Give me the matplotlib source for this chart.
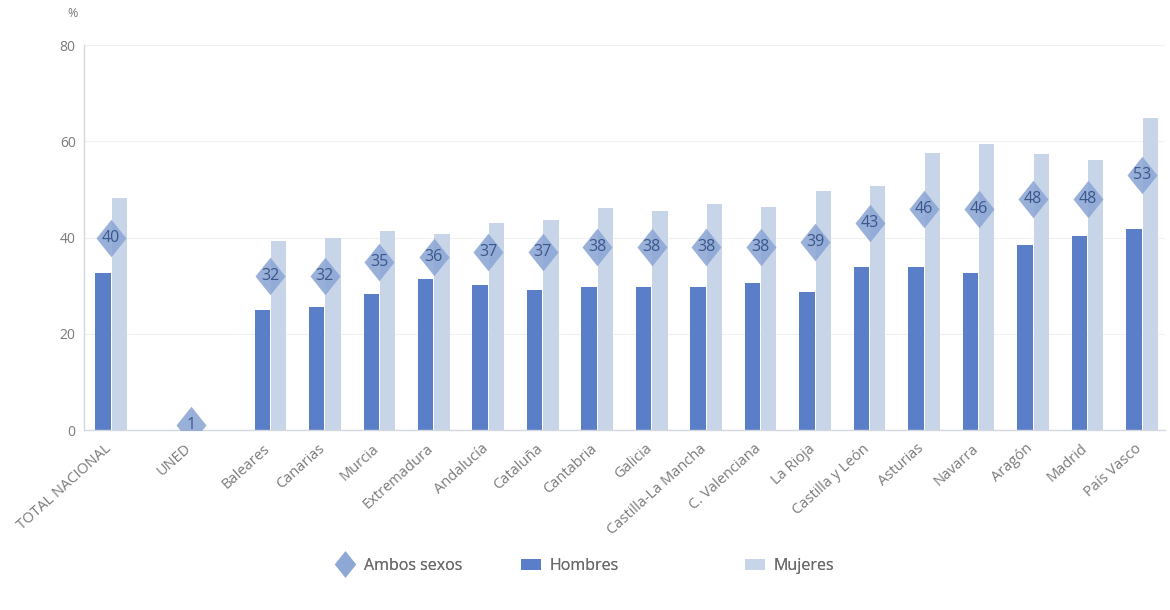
import numpy as np
import matplotlib
matplotlib.use("Agg")
import matplotlib.pyplot as plt
from matplotlib.lines import Line2D
from matplotlib.patches import Patch
from matplotlib.transforms import ScaledTranslation

categories = ["TOTAL NACIONAL", "UNED", "Baleares", "Canarias", "Murcia", "Extremadura",
              "Andalucía", "Cataluña", "Cantabria", "Galicia", "Castilla-La Mancha",
              "C. Valenciana", "La Rioja", "Castilla y León", "Asturias", "Navarra",
              "Aragón", "Madrid", "País Vasco"]
ambos = [40, 1, 32, 32, 35, 36, 37, 37, 38, 38, 38, 38, 39, 43, 46, 46, 48, 48, 53]
hombres = [32.7, 0, 24.9, 25.6, 28.3, 31.4, 30.1, 29.2, 29.8, 29.8, 29.8, 30.5, 28.6,
           33.8, 33.8, 32.6, 38.4, 40.4, 41.7]
mujeres = [48.3, 0, 39.3, 40.0, 41.4, 40.7, 43.1, 43.6, 46.2, 45.6, 46.9, 46.3, 49.7,
           50.8, 57.5, 59.4, 57.4, 56.1, 64.8]

plt.rcParams['font.family'] = ['Open Sans', 'DejaVu Sans']

c_h = '#5a7ec8'
c_m = '#c8d5e9'
c_d = '#8ea8d5'
c_txt = '#3b5689'
c_lab = '#7a7a7a'

# category positions: wider spacing after the first two categories
x = np.array([0, 1.46, 2.92] + [2.92 + i for i in range(1, 17)])

fig = plt.figure(figsize=(11.7, 6.1), dpi=100)
ax = fig.add_axes([0.0718, 0.295, 0.9239, 0.631])

w = 0.28
ax.bar(x - 0.15, hombres, width=w, color=c_h, zorder=2)
ax.bar(x + 0.15, mujeres, width=w, color=c_m, zorder=2)

diamond = [(0, 1), (0.8, 0), (0, -1), (-0.8, 0), (0, 1)]
ax.scatter(x, ambos, marker=diamond, s=27**2, color=c_d, alpha=0.9, zorder=3, linewidths=0)
for xi, v in zip(x, ambos):
    ax.text(xi, v, str(v), ha='center', va='center', fontsize=11.5, color=c_txt,
            zorder=4)

ax.set_ylim(0, 80)
ax.set_xlim(-0.5, 19.34)
ax.set_yticks([0, 20, 40, 60, 80])
ax.set_yticklabels(['0', '20', '40', '60', '80'], color=c_lab, fontsize=10)
ax.grid(axis='y', color='#f0f0f0', linewidth=0.8, zorder=0)
ax.set_axisbelow(True)
ax.set_xticks(x)
ax.set_xticklabels(categories, rotation=42, ha='right', va='center',
                   rotation_mode='anchor', fontsize=10.5, color=c_lab)
ax.tick_params(axis='y', length=0, pad=6)
ax.tick_params(axis='x', length=0, pad=12)
shift = ScaledTranslation(-1.5 / 72, 0, fig.dpi_scale_trans)
for lab in ax.get_xticklabels():
    lab.set_transform(lab.get_transform() + shift)
for s in ['top', 'right']:
    ax.spines[s].set_visible(False)
for s in ['left', 'bottom']:
    ax.spines[s].set_color('#d4d8de')
    ax.spines[s].set_linewidth(1.0)

fig.text(0.058, 0.972, '%', color=c_lab, fontsize=9)

leg_handles = [Line2D([0], [0], marker=diamond, color='none', markerfacecolor=c_d,
                      markeredgewidth=0, markersize=19),
               Patch(facecolor=c_h), Patch(facecolor=c_m)]
leg_labels = ['Ambos sexos', 'Hombres', 'Mujeres']
leg_x = [335, 521, 745]
for h, l, lx in zip(leg_handles, leg_labels, leg_x):
    lg = fig.legend([h], [l], loc='center left', bbox_to_anchor=(lx / 1170, 0.072),
                    frameon=False, fontsize=11.5, labelcolor='#6a6a6a',
                    handlelength=1.25, handleheight=0.7, handletextpad=0.55,
                    borderpad=0, borderaxespad=0)
    fig.add_artist(lg)

fig.savefig('out.png', dpi=100)
